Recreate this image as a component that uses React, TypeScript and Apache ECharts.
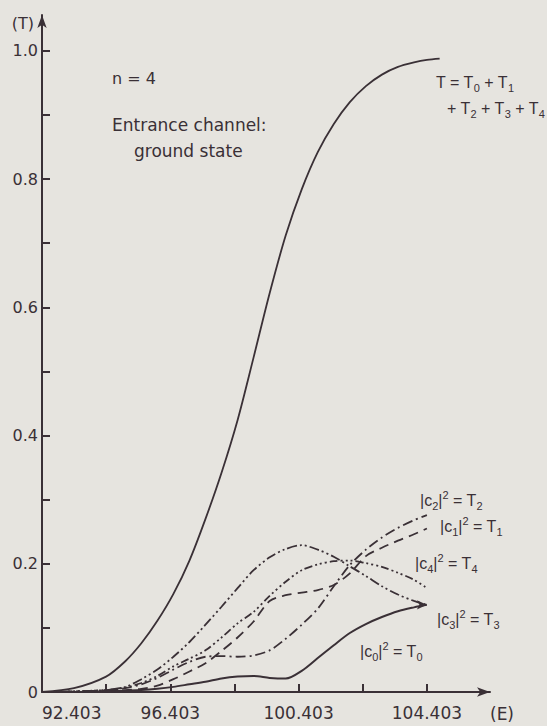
import React, { useEffect, useRef } from 'react';
import * as echarts from 'echarts';

const INK = '#3a3036';
const BG = '#e6e4df';

// energies (E) at which the partial transmissions are read
const energy = [92.403, 93.4, 94.4, 95.0, 95.5, 96.0, 96.5, 97.0, 97.5, 98.0, 98.5, 99.0, 99.5, 100.0, 100.5, 101.0, 101.5, 102.0, 102.5, 103.0, 103.5, 104.0, 104.403];
// total transmission T extends a little further
const energyTotal = [92.403, 93.4, 94.4, 95.0, 95.5, 96.0, 96.5, 97.0, 97.5, 98.0, 98.5, 99.0, 99.5, 100.0, 100.5, 101.0, 101.5, 102.0, 102.5, 103.0, 103.5, 104.0, 104.403, 104.8];
const totalT = [0.0, 0.006, 0.024, 0.048, 0.076, 0.111, 0.153, 0.205, 0.27, 0.342, 0.424, 0.522, 0.622, 0.712, 0.784, 0.842, 0.886, 0.92, 0.945, 0.963, 0.975, 0.982, 0.986, 0.988];
const T0 = [0, 0.0, 0.001, 0.002, 0.003, 0.005, 0.008, 0.012, 0.016, 0.021, 0.024, 0.025, 0.022, 0.021, 0.033, 0.053, 0.073, 0.092, 0.106, 0.117, 0.126, 0.132, 0.136];
const T1 = [0, 0.0, 0.001, 0.003, 0.005, 0.01, 0.02, 0.032, 0.045, 0.064, 0.085, 0.11, 0.142, 0.151, 0.155, 0.159, 0.167, 0.185, 0.212, 0.225, 0.236, 0.246, 0.255];
const T2 = [0, 0.001, 0.003, 0.006, 0.012, 0.022, 0.035, 0.047, 0.055, 0.056, 0.055, 0.057, 0.065, 0.083, 0.105, 0.13, 0.165, 0.198, 0.222, 0.241, 0.256, 0.268, 0.276];
const T3 = [0, 0.001, 0.003, 0.008, 0.02, 0.035, 0.055, 0.078, 0.105, 0.133, 0.162, 0.19, 0.21, 0.223, 0.229, 0.222, 0.211, 0.196, 0.181, 0.165, 0.152, 0.142, 0.136];
const T4 = [0, 0.001, 0.003, 0.007, 0.014, 0.025, 0.04, 0.052, 0.065, 0.085, 0.107, 0.125, 0.15, 0.172, 0.19, 0.199, 0.204, 0.205, 0.201, 0.195, 0.186, 0.175, 0.162];

const xTickValues = [94.403, 96.403, 98.403, 100.403, 102.403, 104.403];
const xLabelValues = [92.403, 96.403, 100.403, 104.403];
const yTickValues = [0.1, 0.2, 0.3, 0.4, 0.5, 0.6, 0.7, 0.8, 0.9, 1.0];
const yLabelValues = [0, 0.2, 0.4, 0.6, 0.8, 1.0];

const LF = 'Liberation Sans, Arial, sans-serif';
const DF = 'DejaVu Sans, sans-serif';

const rich = {
  m: { fontSize: 16, fontFamily: LF, fill: INK, lineHeight: 22 },
  b: { fontSize: 11, fontFamily: LF, fill: INK, lineHeight: 9, verticalAlign: 'bottom' },
  p: { fontSize: 11, fontFamily: LF, fill: INK, lineHeight: 9, verticalAlign: 'top' },
};

function richText(text: string, x: number, y: number) {
  return {
    type: 'text',
    x,
    y,
    style: { text, rich, verticalAlign: 'middle', align: 'left', fill: INK, fontSize: 16, fontFamily: LF },
  };
}

function plainText(text: string, x: number, y: number, size: number) {
  return {
    type: 'text',
    x,
    y,
    style: { text, fill: INK, fontSize: size, fontFamily: DF, verticalAlign: 'middle', align: 'left' },
  };
}

function line(name: string, xs: number[], ys: number[], type: any, width: number, extra: any = {}) {
  return {
    name,
    type: 'line',
    data: xs.map((e, i) => [e, ys[i]]),
    showSymbol: false,
    smooth: 0.3,
    lineStyle: { color: INK, width, type },
    ...extra,
  };
}

export default function App() {
  const ref = useRef<HTMLDivElement>(null);
  useEffect(() => {
    if (!ref.current) return;
    const chart = echarts.init(ref.current, null, { renderer: 'svg' });
    chart.setOption({
      animation: false,
      backgroundColor: BG,
      grid: { left: 42, right: 57, top: 15, bottom: 34 },
      xAxis: {
        type: 'value',
        min: 92.403,
        max: 106.37,
        name: '(E)',
        nameLocation: 'end',
        nameGap: 0,
        nameTextStyle: { color: INK, fontSize: 17, fontFamily: DF, align: 'left', verticalAlign: 'top', padding: [13, 0, 0, 0] },
        axisLine: { show: true, lineStyle: { color: INK, width: 2 }, symbol: ['none', 'arrow'], symbolSize: [7, 13] },
        axisTick: { show: true, inside: true, length: 8, lineStyle: { color: INK, width: 2 }, customValues: xTickValues },
        axisLabel: {
          customValues: xLabelValues,
          formatter: (v: number) => v.toFixed(3),
          color: INK,
          fontSize: 17,
          fontFamily: DF,
          margin: 12,
          alignMinLabel: 'left',
        },
        splitLine: { show: false },
      },
      yAxis: {
        type: 'value',
        min: 0,
        max: 1.056,
        name: '(T)',
        nameLocation: 'end',
        nameGap: 0,
        nameTextStyle: { color: INK, fontSize: 16, fontFamily: DF, align: 'right', verticalAlign: 'top', padding: [0, 8, 0, 0] },
        axisLine: { show: true, lineStyle: { color: INK, width: 2 }, symbol: ['none', 'arrow'], symbolSize: [7, 13] },
        axisTick: { show: true, inside: true, length: 8, lineStyle: { color: INK, width: 2 }, customValues: yTickValues },
        axisLabel: {
          customValues: yLabelValues,
          formatter: (v: number) => (v === 0 ? '0' : v.toFixed(1)),
          color: INK,
          fontSize: 16,
          fontFamily: DF,
          margin: 4,
        },
        splitLine: { show: false },
      },
      series: [
        line('T', energyTotal, totalT, 'solid', 1.8),
        line('T0', energy, T0, 'solid', 2),
        line('T1', energy, T1, [10, 6], 1.8),
        line('T2', energy, T2, [10, 4, 2, 4], 1.8),
        line('T3', energy, T3, [10, 3, 2, 3, 2, 3], 1.8, {
          markPoint: {
            symbol: 'arrow',
            symbolSize: [7, 10],
            symbolRotate: -90,
            itemStyle: { color: INK },
            label: { show: false },
            data: [{ coord: [energy[energy.length - 1], T3[T3.length - 1]] }],
          },
        }),
        line('T4', energy, T4, [2, 3, 2, 3, 2, 3, 8, 3], 1.8),
      ],
      graphic: [
        plainText('n = 4', 112, 78, 16),
        plainText('Entrance channel:', 112, 125, 17),
        plainText('ground state', 134, 151, 17),
        richText('{m|T = T}{b|0}{m| + T}{b|1}', 436, 82),
        richText('{m|+ T}{b|2}{m| + T}{b|3}{m| + T}{b|4}', 447, 108),
        richText('{m||c}{b|2}{m||}{p|2}{m| = T}{b|2}', 420, 500),
        richText('{m||c}{b|1}{m||}{p|2}{m| = T}{b|1}', 440, 526),
        richText('{m||c}{b|4}{m||}{p|2}{m| = T}{b|4}', 415, 563),
        richText('{m||c}{b|3}{m||}{p|2}{m| = T}{b|3}', 437, 619),
        richText('{m||c}{b|0}{m||}{p|2}{m| = T}{b|0}', 360, 651),
      ],
    });
    return () => chart.dispose();
  }, []);
  return <div ref={ref} style={{ position: 'absolute', left: 0, top: 0, width: 547, height: 726 }} />;
}
